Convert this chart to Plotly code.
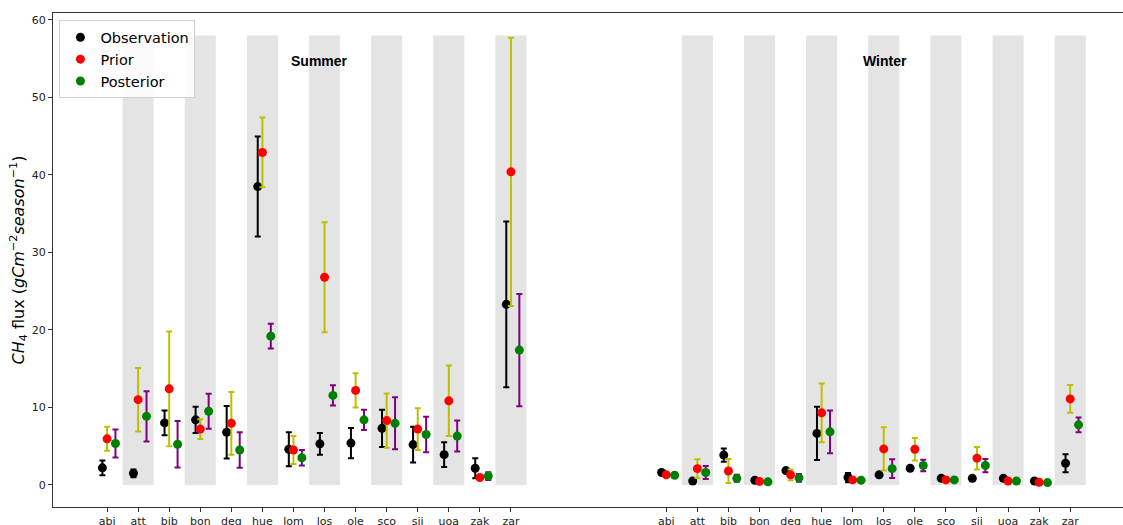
import plotly.graph_objects as go

sites = ["abi", "att", "bib", "bon", "deg", "hue", "lom", "los", "ole", "sco", "sii", "uoa", "zak", "zar"]

# Summer
sum_obs = [2.2, 1.5, 8.0, 8.4, 6.8, 38.5, 4.6, 5.3, 5.4, 7.3, 5.2, 3.9, 2.15, 23.3]
sum_obs_err = [0.95, 0.5, 1.6, 1.7, 3.4, 6.45, 2.2, 1.4, 1.95, 2.4, 2.3, 1.6, 1.3, 10.7]
sum_pri = [5.95, 11.0, 12.4, 7.2, 7.95, 42.9, 4.5, 26.8, 12.2, 8.3, 7.2, 10.85, 0.95, 40.4]
sum_pri_err = [1.55, 4.1, 7.4, 1.27, 4.05, 4.5, 1.8, 7.1, 2.2, 3.5, 2.7, 4.55, 0.2, 17.3]
sum_post = [5.35, 8.85, 5.25, 9.5, 4.5, 19.2, 3.5, 11.55, 8.4, 7.95, 6.5, 6.3, 1.15, 17.4]
sum_post_err = [1.8, 3.25, 3.0, 2.25, 2.3, 1.6, 1.0, 1.3, 1.3, 3.35, 2.3, 2.0, 0.5, 7.25]

# Winter
win_obs = [1.6, 0.5, 3.85, 0.6, 1.85, 6.65, 0.95, 1.3, 2.15, 0.85, 0.85, 0.85, 0.5, 2.8]
win_obs_err = [0.25, 0.15, 0.85, 0.2, 0.25, 3.45, 0.6, 0.3, 0.25, 0.3, 0.3, 0.3, 0.2, 1.15]
win_pri = [1.3, 2.1, 1.8, 0.45, 1.3, 9.3, 0.65, 4.65, 4.6, 0.65, 3.45, 0.5, 0.35, 11.1]
win_pri_err = [0.2, 1.2, 1.55, 0.1, 0.7, 3.8, 0.1, 2.8, 1.45, 0.1, 1.45, 0.1, 0.1, 1.8]
win_post = [1.25, 1.6, 0.85, 0.4, 0.9, 6.85, 0.6, 2.1, 2.5, 0.65, 2.5, 0.5, 0.3, 7.75]
win_post_err = [0.15, 0.85, 0.45, 0.1, 0.5, 2.75, 0.1, 1.2, 0.75, 0.1, 0.85, 0.1, 0.1, 0.95]

season_labels = ["Summer", "Winter"]
season_start = [0, 18]
band_top = 58

n = len(sites)
pos = [season_start[0] + i for i in range(n)] + [season_start[1] + i for i in range(n)]
ticktext = sites + sites

obs = sum_obs + win_obs
obs_err = sum_obs_err + win_obs_err
pri = sum_pri + win_pri
pri_err = sum_pri_err + win_pri_err
post = sum_post + win_post
post_err = sum_post_err + win_post_err

fig = go.Figure()

shapes = []
for k, p in enumerate(pos):
    if k % n % 2 == 1:
        shapes.append(dict(type="rect", xref="x", yref="y", x0=p - 0.5, x1=p + 0.5,
                           y0=0, y1=band_top, fillcolor="#e4e4e4", line=dict(width=0),
                           layer="below"))

def add(name, offset, y, err, mcol, ecol):
    fig.add_trace(go.Scatter(
        x=[p + offset for p in pos], y=y, mode="markers", name=name,
        marker=dict(color=mcol, size=9),
        error_y=dict(type="data", array=err, visible=True, color=ecol, thickness=2, width=3),
    ))

add("Observation", -0.15, obs, obs_err, "black", "black")
add("Prior", 0.0, pri, pri_err, "red", "#bfbf00")
add("Posterior", 0.27, post, post_err, "green", "purple")

annotations = []
for lab, x in zip(season_labels, [6.85, 25.05]):
    annotations.append(dict(x=x, y=54.7, xref="x", yref="y", text="<b>" + lab + "</b>",
                            showarrow=False, font=dict(family="Liberation Sans", size=14, color="black")))

fig.update_layout(
    width=1123, height=525,
    margin=dict(l=53, r=0, t=13, b=18, autoexpand=False),
    plot_bgcolor="white", paper_bgcolor="white",
    font=dict(family="DejaVu Sans", size=11, color="#222"),
    shapes=shapes, annotations=annotations,
    showlegend=True,
    legend=dict(x=0.006, y=0.985, xanchor="left", yanchor="top",
                bgcolor="rgba(255,255,255,0.85)", bordercolor="#d0d0d0", borderwidth=1,
                font=dict(size=14.5, family="DejaVu Sans", color="black"),
                itemwidth=30, tracegroupgap=0),
)
fig.update_xaxes(range=[-1.74, 32.7], tickmode="array", tickvals=pos, ticktext=ticktext,
                 showline=True, linecolor="#333", linewidth=1.2, mirror=True, automargin=False,
                 ticks="outside", ticklen=4, tickcolor="#333", showgrid=False, zeroline=False)
fig.update_yaxes(range=[-2.85, 60.9], tickvals=[0, 10, 20, 30, 40, 50, 60], automargin=False,
                 showline=True, linecolor="#333", linewidth=1.2,
                 ticks="outside", ticklen=4, tickcolor="#333", showgrid=False, zeroline=False,
                 title=dict(text="<i>CH</i><sub>4</sub> flux (<i>gCm</i><sup>−2</sup><i>season</i><sup>−1</sup>)",
                            font=dict(size=16, color="black"), standoff=3))

fig.write_html("out.html")
